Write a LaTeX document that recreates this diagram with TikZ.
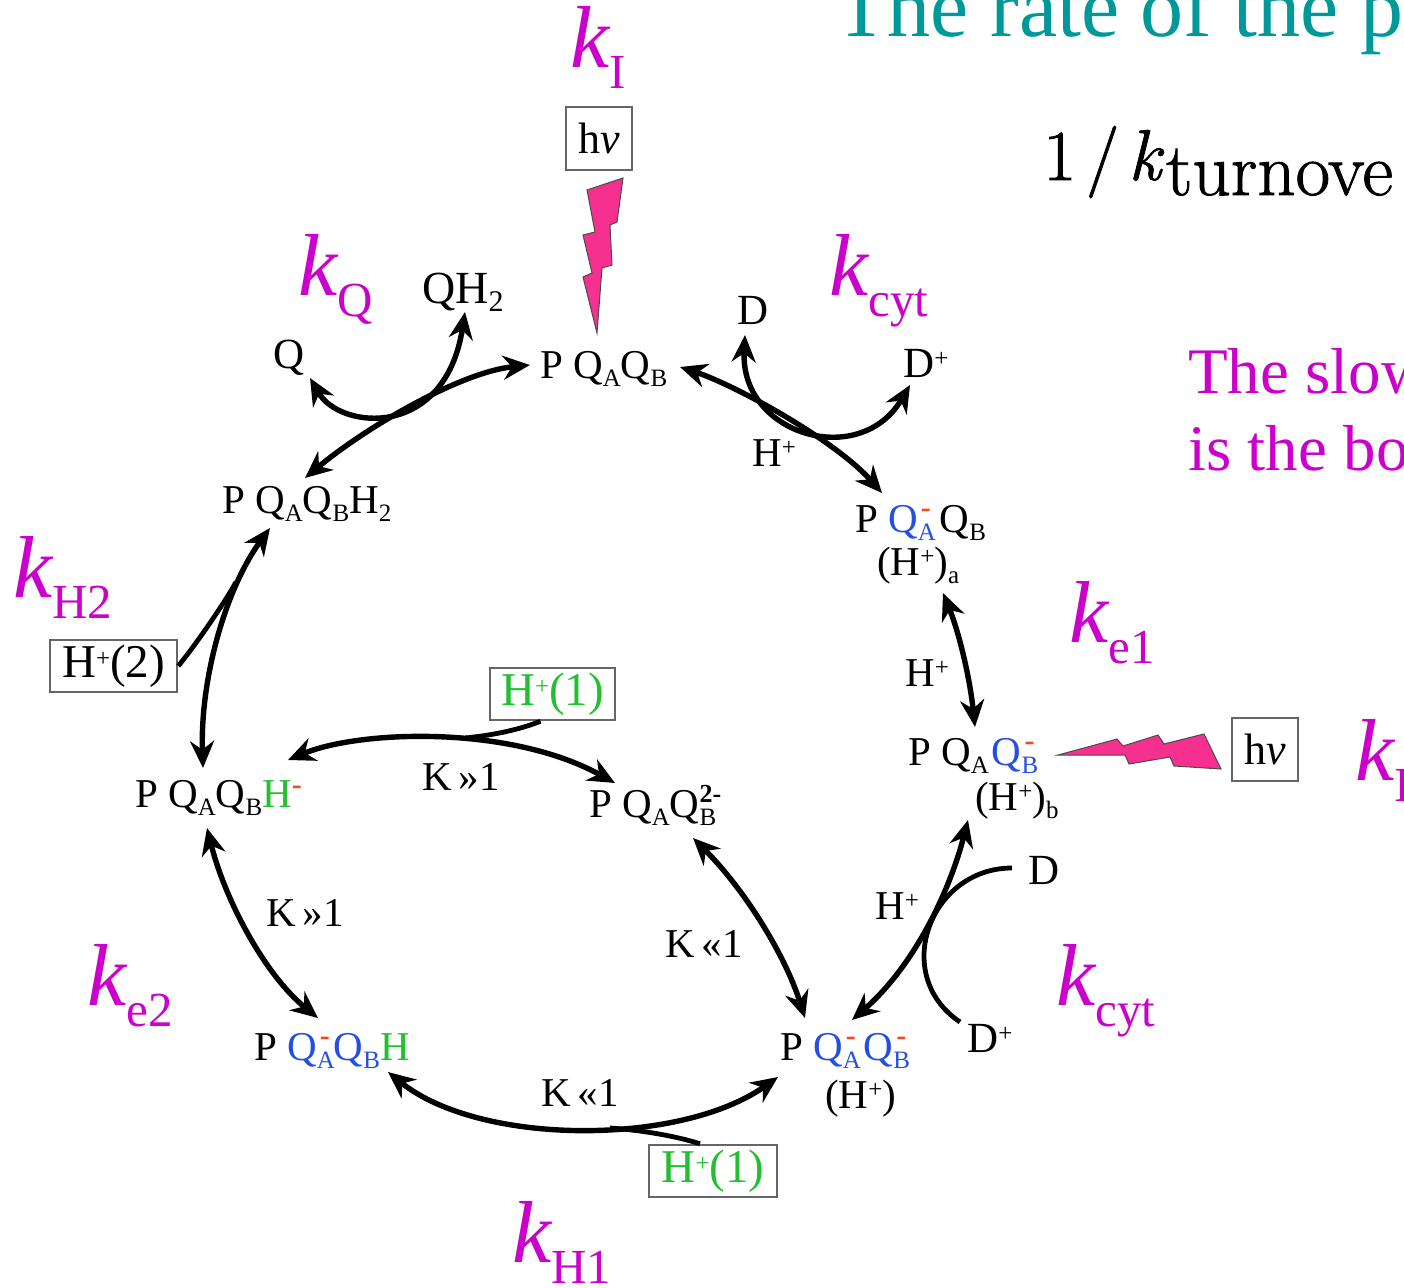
\documentclass[tikz,border=0pt]{standalone}
\usepackage{fontspec}
\usetikzlibrary{arrows.meta}
\newfontfamily\tms{Liberation Serif}
\newfontfamily\lmb[FakeBold=1.2]{Latin Modern Roman}
\definecolor{cmag}{HTML}{CC00CC}
\definecolor{cteal}{HTML}{009999}
\definecolor{cpink}{HTML}{F5308F}
\definecolor{cblue}{HTML}{2450E0}
\definecolor{cgreen}{HTML}{22C030}
\definecolor{cneg}{HTML}{F04A20}
\definecolor{cbox}{HTML}{666666}
\newcommand{\fsz}[1]{\fontsize{#1}{#1}\selectfont}
\newcommand{\sbt}[1]{\raisebox{-8pt}{\fsz{25}#1}}
\newcommand{\supl}{\raisebox{11pt}{\fsz{25}+}}
\newcommand{\sbsp}[2]{\makebox[17pt][l]{\rlap{\raisebox{-8pt}{\fsz{25}#1}}\raisebox{15pt}{\hspace{3pt}\fsz{30}\bfseries\textcolor{cneg}{-}}}}
\newcommand{\klab}[1]{{\tms\color{cmag}\fsz{88}\itshape k\raisebox{-21pt}{\fsz{49}\upshape #1}}}
\newcommand{\hnu}{{\fsz{44}h\textit{ν}}}
\tikzset{
  statetxt/.style={anchor=base west,inner sep=0pt,font=\tms\fsz{41}},
  plainlab/.style={anchor=base west,inner sep=0pt,font=\tms\fsz{43}},
  ratelab/.style={anchor=base west,inner sep=0pt},
  boxed/.style={draw=cbox,line width=2.5pt,fill=white,inner sep=0pt,font=\tms\fsz{47}},
  twoway/.style={{Stealth[length=27pt,width=24pt]}-{Stealth[length=27pt,width=24pt]},line width=5.4pt},
  feeder/.style={line width=4.8pt},
  bolt/.style={fill=cpink,draw=black!70,line width=1pt,line join=miter}
}
\begin{document}
\begin{tikzpicture}[x=1pt,y=-1pt]
\useasboundingbox (0,0) rectangle (1404,1287);
\fill[white] (0,0) rectangle (1404,1287);
\clip (0,0) rectangle (1404,1287);

% text on the right
\node[ratelab,font=\tms\fsz{86},text=cteal] (title) at (835,37) {The rate of the p};
\node[ratelab,font=\lmb\fsz{72}] (turn) at (1043,180) {1\hspace{10pt}/\hspace{9pt}\textit{k}\hspace{2pt}\raisebox{-15pt}{\fsz{75}turnove}};
\node[ratelab,font=\tms\fsz{65},text=cmag] (slow1) at (1188,393) {The slow};
\node[ratelab,font=\tms\fsz{65},text=cmag] (slow2) at (1188,470) {is the bo};

% rate labels
\node[ratelab] (kI) at (570,68) {\klab{I}};
\node[ratelab] (kQ) at (298,295) {\klab{Q}};
\node[ratelab] (kcyta) at (829,295) {\klab{cyt}};
\node[ratelab] (ke1) at (1069,642) {\klab{e1}};
\node[ratelab] (kH2) at (13,597) {\klab{H2}};
\node[ratelab] (ke2) at (87,1005) {\klab{e2}};
\node[ratelab] (kcytb) at (1056,1005) {\klab{cyt}};
\node[ratelab] (kH1) at (512,1262) {\klab{H1}};
\node[ratelab] (kIb) at (1355,780) {\klab{I}};

% states
\node[statetxt] (pqq) at (540,378) {P Q\sbt{A}Q\sbt{B}};
\node[statetxt] (pqh2) at (222,513) {P Q\sbt{A}Q\sbt{B}H\sbt{2}};
\node[statetxt] (qam) at (855,532) {P \textcolor{cblue}{Q\sbsp{A}{-}}\hspace{5pt}Q\sbt{B}};
\node[statetxt] (hpa) at (877,575) {(H\supl)\sbt{a}};
\node[statetxt] (qbm) at (908,765) {P Q\sbt{A}\hspace{3pt}\textcolor{cblue}{Q\sbsp{B}{-}}};
\node[statetxt] (hpb) at (975,810) {(H\supl)\sbt{b}};
\node[statetxt] (qq) at (780,1060) {P \textcolor{cblue}{Q\sbsp{A}{-}\hspace{4pt}Q\sbsp{B}{-}}};
\node[statetxt] (hp) at (825,1108) {(H\supl)};
\node[statetxt] (qh) at (254,1060) {P \textcolor{cblue}{Q\sbsp{A}{-}Q\sbt{B}}\textcolor{cgreen}{H}};
\node[statetxt] (q2) at (589,817) {P Q\sbt{A}Q\makebox[18pt][l]{\rlap{\raisebox{-8pt}{\fsz{25}B}}\raisebox{15pt}{\fsz{26}\bfseries 2-}}};
\node[statetxt] (qhm) at (135,807) {P Q\sbt{A}Q\sbt{B}\textcolor{cgreen}{H}\raisebox{13pt}{\fsz{30}\bfseries\textcolor{cneg}{-}}};

% plain labels
\node[plainlab,font=\tms\fsz{46}] (qh2) at (422,303) {QH\raisebox{-8pt}{\fsz{30}2}};
\node[plainlab] (qout) at (273,368) {Q};
\node[plainlab] (da) at (737,324) {D};
\node[plainlab] (dpa) at (903,377) {D\supl};
\node[plainlab] (db) at (1028,884) {D};
\node[plainlab] (dpb) at (967,1052) {D\supl};
\node[statetxt] (h1) at (752,466) {H\supl};
\node[statetxt] (h2) at (905,686) {H\supl};
\node[statetxt] (h3) at (875,919) {H\supl};
\node[statetxt] (k1) at (422,790) {K\,»1};
\node[statetxt] (k2) at (266,926) {K\,»1};
\node[statetxt] (k3) at (665,957) {K\,«1};
\node[statetxt] (k4) at (541,1106) {K\,«1};

% boxes
\node[boxed,minimum width=66pt,minimum height=63pt] (hva) at (599,138.5) {\hnu};
\node[boxed,minimum width=66pt,minimum height=63pt] (hvb) at (1265,749.5) {\hnu};
\node[boxed,minimum width=127pt,minimum height=52pt] (bh2) at (113.5,666) {\raisebox{-3pt}{H\supl(2)}};
\node[boxed,minimum width=125pt,minimum height=52pt,text=cgreen] (bh1a) at (552.5,694) {\raisebox{-3pt}{H\supl(1)}};
\node[boxed,minimum width=128pt,minimum height=52pt,text=cgreen] (bh1b) at (713,1171) {\raisebox{-3pt}{H\supl(1)}};

% lightning
\fill[bolt] (623,178) -- (587,190) -- (595,232) -- (583,235) -- (592,273) -- (583,277) -- (597,333) -- (602,268) -- (612,265) -- (610,225) -- (617,222) -- cycle;
\fill[bolt] (1058,755) -- (1117,739) -- (1123,746) -- (1158,735) -- (1164,744) -- (1204,734) -- (1221,769) -- (1174,766) -- (1170,757) -- (1129,764) -- (1125,755) -- cycle;

% join points of the feeders
\coordinate (jh2) at (236,582);
\coordinate (jh1a) at (465,738);
\coordinate (jh1b) at (610,1128);

% connectors
\draw[twoway] ([shift={(-10,-13)}]pqq.base west) .. controls +(-70,7) and +(60,-50) .. ([shift={(83,-35)}]pqh2.base west);
\draw[twoway] ([shift={(37,10)}]qout.base west) .. controls +(30,52) and +(-20,128) .. ([shift={(43,9)}]qh2.base west);
\draw[twoway] ([shift={(140,-11)}]pqq.base west) .. controls +(55,18) and +(-47,-53) .. ([shift={(27,-39)}]qam.base west);
\draw[twoway] ([shift={(8,11)}]da.base west) .. controls +(-5,100) and +(-50,85) .. ([shift={(7,8)}]dpa.base west);
\draw[twoway] ([shift={(66,18)}]hpa.base west) .. controls +(17,42) and +(-5,-47) .. ([shift={(67,-38)}]qbm.base west);
\draw[twoway] ([shift={(-7,10)}]hpb.base west) .. controls +(-18,70) and +(63,-55) .. ([shift={(72,-40)}]qq.base west);
\draw[feeder] ([shift={(-16,-16)}]db.base west) .. controls +(-82,0) and +(-70,-47) .. ([shift={(-7,-30)}]dpb.base west);
\draw[twoway] ([shift={(48,15)}]pqh2.base west) .. controls +(-45,62) and +(-3,-88) .. ([shift={(68,-39)}]qhm.base west);
\draw[feeder] (bh2.east) .. controls +(15,-18) and +(-12,22) .. (jh2);
\draw[twoway] ([shift={(153,-47)}]qhm.base west) .. controls +(72,-30) and +(-105,-58) .. ([shift={(26,-34)}]q2.base west);
\draw[feeder] ([xshift=-12pt]bh1a.south) .. controls +(-20,8) and +(30,-3) .. (jh1a);
\draw[twoway] ([shift={(72,21)}]qhm.base west) .. controls +(18,72) and +(-53,-43) .. ([shift={(64,-42)}]qh.base west);
\draw[twoway] ([shift={(104,21)}]q2.base west) .. controls +(52,52) and +(-20,-63) .. ([shift={(25,-42)}]qq.base west);
\draw[twoway] ([shift={(134,12)}]qh.base west) .. controls +(92,74) and +(-98,69) .. ([shift={(-2,17)}]qq.base west);
\draw[feeder] ([xshift=-13pt]bh1b.north) .. controls +(-25,-8) and +(30,2) .. (jh1b);
\end{tikzpicture}
\end{document}
